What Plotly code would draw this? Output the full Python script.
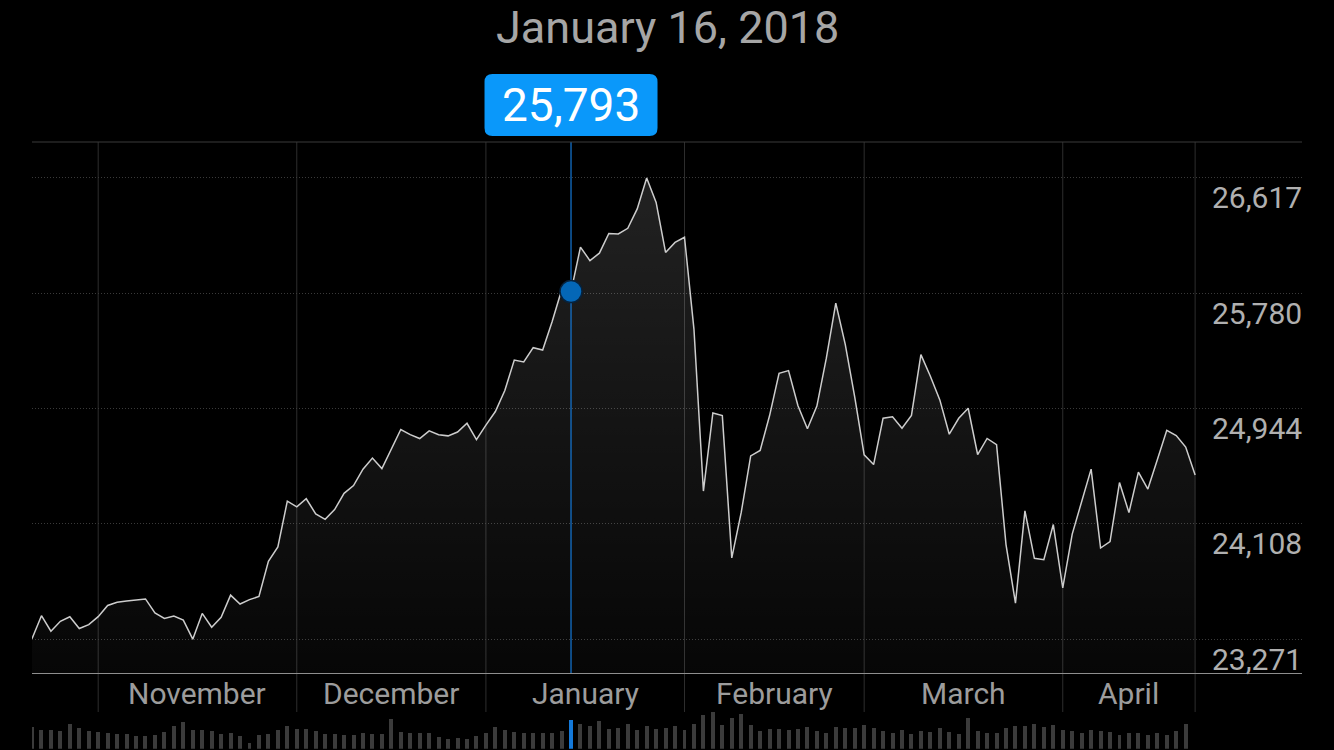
import datetime as dt

import plotly.graph_objects as go

W, H = 1334, 750

# trading days (day of month) per month
days_2017_10 = [23, 24, 25, 26, 27, 30, 31]
days_2017_11 = [1, 2, 3, 6, 7, 8, 9, 10, 13, 14, 15, 16, 17, 20, 21, 22, 24, 27, 28, 29, 30]
days_2017_12 = [1, 4, 5, 6, 7, 8, 11, 12, 13, 14, 15, 18, 19, 20, 21, 22, 26, 27, 28, 29]
days_2018_01 = [2, 3, 4, 5, 8, 9, 10, 11, 12, 16, 17, 18, 19, 22, 23, 24, 25, 26, 29, 30, 31]
days_2018_02 = [1, 2, 5, 6, 7, 8, 9, 12, 13, 14, 15, 16, 20, 21, 22, 23, 26, 27, 28]
days_2018_03 = [1, 2, 5, 6, 7, 8, 9, 12, 13, 14, 15, 16, 19, 20, 21, 22, 23, 26, 27, 28, 29]
days_2018_04 = [2, 3, 4, 5, 6, 9, 10, 11, 12, 13, 16, 17, 18, 19, 20]

closes = [
    23273.96, 23441.76, 23329.46, 23400.86, 23434.19, 23348.74, 23377.24,
    23435.01, 23516.26, 23539.19, 23548.42, 23557.23, 23563.36, 23461.94, 23422.21, 23439.70, 23409.47,
    23271.28, 23458.36, 23358.24, 23430.33, 23590.83, 23526.18, 23557.99, 23580.78, 23836.71, 23940.68,
    24272.35,
    24231.59, 24290.05, 24180.64, 24140.91, 24211.48, 24329.16, 24386.03, 24504.80, 24585.43, 24508.66,
    24651.74, 24792.20, 24754.75, 24726.65, 24782.29, 24754.06, 24746.21, 24774.30, 24837.51, 24719.22,
    24824.01, 24922.68, 25075.13, 25295.87, 25283.00, 25385.80, 25369.13, 25574.73, 25803.19, 25792.86,
    26115.65, 26017.81, 26071.72, 26214.60, 26210.81, 26252.12, 26392.79, 26616.71, 26439.48, 26076.89,
    26149.39,
    26186.71, 25520.96, 24345.75, 24912.77, 24893.35, 23860.46, 24190.90, 24601.27, 24640.45, 24893.49,
    25200.37, 25219.38, 24964.75, 24797.78, 24962.48, 25309.99, 25709.27, 25410.03, 25029.20,
    24608.98, 24538.06, 24874.76, 24884.12, 24801.36, 24895.21, 25335.74, 25178.61, 25007.03, 24758.12,
    24873.66, 24946.51, 24610.91, 24727.27, 24682.31, 23957.89, 23533.20, 24202.60, 23857.71, 23848.42,
    24103.11,
    23644.19, 24033.36, 24264.30, 24505.22, 23932.76, 23979.10, 24407.73, 24189.45, 24483.05, 24360.14,
    24573.04, 24786.63, 24748.07, 24664.89, 24462.94,
]

volumes = [
    260, 224, 224, 212, 296, 248, 212,
    200, 188, 176, 176, 152, 152, 164, 200, 272, 320, 224, 224, 212, 176, 188, 152, 68, 164, 176, 224,
    272,
    236, 236, 212, 176, 176, 164, 164, 188, 176, 176, 356, 200, 188, 188, 188, 140, 116, 128, 116, 152,
    188, 260, 224, 200, 188, 188, 188, 188, 212, 344, 296, 272, 332, 236, 248, 296, 224, 272, 236, 248,
    272,
    224, 296, 404, 440, 284, 368, 416, 284, 212, 236, 236, 224, 236, 260, 212, 188, 260, 248, 248,
    284, 248, 212, 188, 224, 176, 212, 200, 248, 200, 176, 368, 212, 188, 188, 248, 272, 272, 296, 260,
    284,
    224, 212, 188, 224, 212, 200, 164, 188, 188, 164, 188, 164, 212, 296,
]

y_ticks = [23271, 24108, 24944, 25780, 26617]
month_labels = ["November", "December", "January", "February", "March", "April"]
selected_date = "2018-01-16"

dates = []
for ym, days in [
    ("2017-10", days_2017_10), ("2017-11", days_2017_11), ("2017-12", days_2017_12),
    ("2018-01", days_2018_01), ("2018-02", days_2018_02), ("2018-03", days_2018_03),
    ("2018-04", days_2018_04),
]:
    dates += [f"{ym}-{d:02d}" for d in days]

idx = list(range(len(dates)))
sel = dates.index(selected_date)
sel_day = dt.date.fromisoformat(selected_date)

# first trading day of each month -> vertical grid, plus right end
bounds = [i for i in idx[1:] if dates[i][:7] != dates[i - 1][:7]] + [idx[-1]]

# pixel layout
PL, PR, PT, PB = 32, 1302, 142, 673
Y_RANGE = [23026, 26878]
X_RANGE = [0, 134.3]


def py(px):
    return (H - px) / H


def pxx(px):
    return px / W


FONT = "Roboto"
GRID = "#2e2e2e"

fig = go.Figure()

fig.add_trace(
    go.Bar(
        x=idx,
        y=volumes,
        yaxis="y2",
        width=0.42,
        marker=dict(color=["#1479d9" if i == sel else "#3b3b3b" for i in idx], line_width=0),
        hoverinfo="skip",
    )
)

fig.add_trace(
    go.Scatter(
        x=idx,
        y=closes,
        mode="lines",
        line=dict(color="#cdcdcd", width=1.5),
        fill="tozeroy",
        fillgradient=dict(
            type="vertical",
            colorscale=[[0, "rgba(255,255,255,0.025)"], [1, "rgba(255,255,255,0.14)"]],
            start=Y_RANGE[0],
            stop=Y_RANGE[1],
        ),
        hoverinfo="skip",
    )
)

# selection line and point
fig.add_trace(
    go.Scatter(
        x=[sel, sel],
        y=Y_RANGE,
        mode="lines",
        line=dict(color="#1479d9", width=1.2),
        hoverinfo="skip",
    )
)
fig.add_trace(
    go.Scatter(
        x=[sel],
        y=[closes[sel]],
        mode="markers",
        marker=dict(size=22, color="#0467b7", line=dict(color="#06223d", width=1.5)),
        hoverinfo="skip",
    )
)

shapes = [
    dict(type="line", xref="paper", yref="paper", x0=pxx(PL), x1=pxx(PR), y0=py(PT), y1=py(PT),
         line=dict(color="#3a3a3a", width=1)),
]
for b in bounds:
    shapes.append(
        dict(type="line", xref="x", yref="paper", x0=b, x1=b, y0=py(712), y1=py(PT),
             line=dict(color=GRID, width=1), layer="below")
    )

hw, hh, r = 86.5, 31, 8
box_path = (
    f"M {-hw + r},{-hh} L {hw - r},{-hh} Q {hw},{-hh} {hw},{-hh + r} "
    f"L {hw},{hh - r} Q {hw},{hh} {hw - r},{hh} L {-hw + r},{hh} Q {-hw},{hh} {-hw},{hh - r} "
    f"L {-hw},{-hh + r} Q {-hw},{-hh} {-hw + r},{-hh} Z"
)
shapes.append(
    dict(type="path", xref="x", yref="paper", xsizemode="pixel", ysizemode="pixel",
         xanchor=sel, yanchor=py(105), path=box_path, fillcolor="#0a98fa", line_width=0)
)

annotations = [
    dict(text=f"{sel_day:%B} {sel_day.day}, {sel_day.year}", xref="paper", yref="paper",
         x=0.5, y=py(28), xanchor="center", yanchor="middle", showarrow=False,
         font=dict(family=FONT, size=45, color="#a6a6a6")),
    dict(text=f"{round(closes[sel]):,}", xref="x", yref="paper", x=sel, y=py(105),
         xanchor="center", yanchor="middle", showarrow=False,
         font=dict(family=FONT, size=46, color="#ffffff")),
]
for v in y_ticks:
    annotations.append(
        dict(text=f"{v:,}", xref="paper", yref="y", x=pxx(1304), y=v, xanchor="right",
             yanchor="middle", yshift=-20, showarrow=False,
             font=dict(family=FONT, size=30, color="#b0b0b0"))
    )
for k, label in enumerate(month_labels):
    annotations.append(
        dict(text=label, xref="x", yref="paper", x=(bounds[k] + bounds[k + 1]) / 2, y=py(693),
             xanchor="center", yanchor="middle", showarrow=False,
             font=dict(family=FONT, size=30, color="#9c9c9c"))
    )

fig.update_layout(
    width=W,
    height=H,
    margin=dict(l=0, r=0, t=0, b=0),
    paper_bgcolor="#000000",
    plot_bgcolor="rgba(0,0,0,0)",
    showlegend=False,
    bargap=0,
    xaxis=dict(
        domain=[pxx(PL), pxx(PR)],
        range=X_RANGE,
        showgrid=False,
        zeroline=False,
        showticklabels=False,
        ticks="",
        showline=True,
        linecolor="#8e8e8e",
        linewidth=1,
    ),
    yaxis=dict(
        domain=[py(PB), py(PT)],
        range=Y_RANGE,
        tickvals=y_ticks,
        showticklabels=False,
        showgrid=True,
        gridcolor="#3a3a3a",
        griddash="1px,2px",
        gridwidth=1,
        zeroline=False,
        ticks="",
    ),
    yaxis2=dict(
        domain=[py(748.7), py(712)],
        range=[0, 440],
        anchor="x",
        visible=False,
    ),
    shapes=shapes,
    annotations=annotations,
)

fig.write_html(
    "out.html",
    config={"displayModeBar": False},
    post_script="document.body.style.margin='0';document.body.style.background='#000';",
)
